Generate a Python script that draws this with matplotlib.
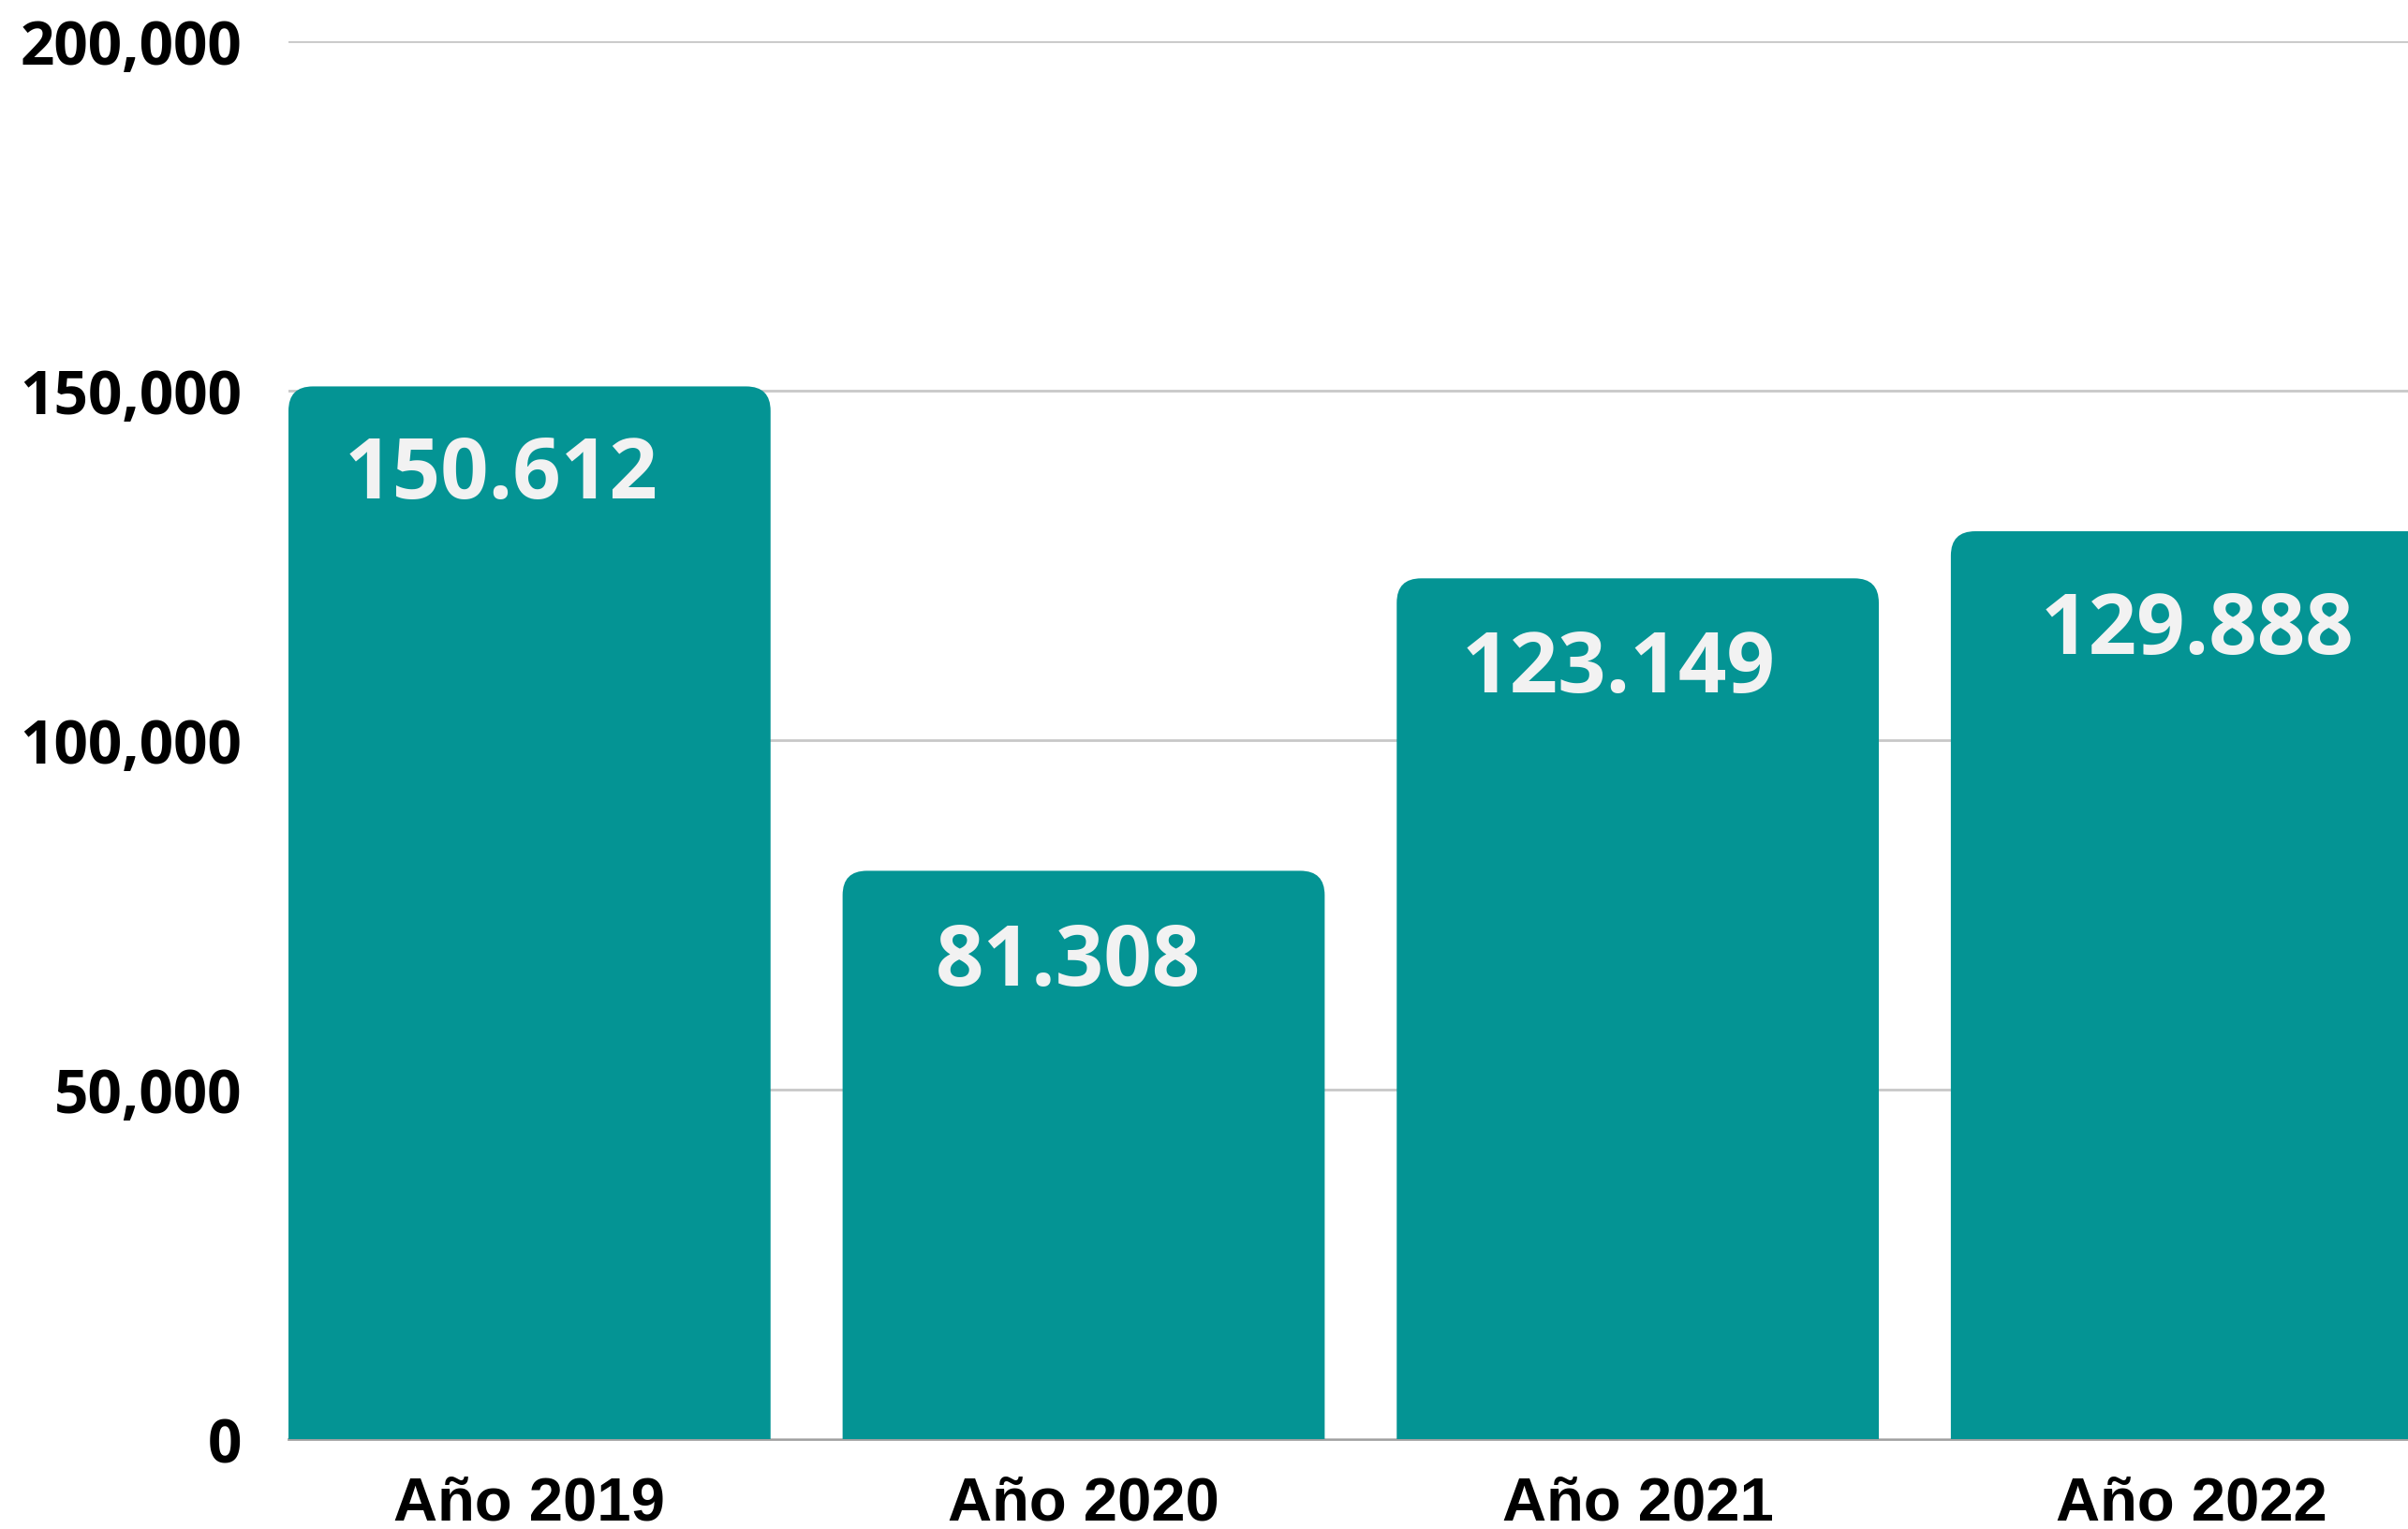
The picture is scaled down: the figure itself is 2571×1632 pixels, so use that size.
import matplotlib
matplotlib.use("Agg")
import matplotlib.pyplot as plt
from matplotlib.patches import FancyBboxPatch
from matplotlib.ticker import FuncFormatter

categories = ["Año 2019", "Año 2020", "Año 2021", "Año 2022"]
values = [150612, 81308, 123149, 129888]
value_labels = ["150.612", "81.308", "123.149", "129.888"]
yticks = [0, 50000, 100000, 150000, 200000]

# label placement tweaks (points), layout only
label_dx = [-22, -12, -15, 4]
label_dy = [-69, -71, -70, -77]

BAR_COLOR = "#049494"
W, H, DPI = 2571, 1633, 100

fig = plt.figure(figsize=(W / DPI, H / DPI), dpi=DPI, facecolor="white")
ax = fig.add_axes([308 / W, 1 - 1537 / H, 1 - 308 / W, (1537 - 45) / H])

bar_width = 0.87
XL, XR = -0.435, 3.39
x = list(range(len(categories)))
ax.set_xlim(XL, XR)
ax.set_ylim(0, 200000)

# grid
ax.set_yticks(yticks)
ax.yaxis.grid(True, color="#c8c8c8", linewidth=2.0)
ax.set_axisbelow(True)
for s in ["top", "right", "left"]:
    ax.spines[s].set_visible(False)
ax.spines["bottom"].set_color("#a0a0a0")
ax.spines["bottom"].set_linewidth(2.0)
ax.spines["bottom"].set_zorder(0)

# bars with rounded tops
bars = ax.bar(x, values, width=bar_width, color=BAR_COLOR, zorder=2)
px_per_x = (W - 308) / (XR - XL)
px_per_y = (1537 - 45) / 200000
r_px = 26
rx = r_px / px_per_x
aspect = px_per_x / px_per_y
for b in bars:
    b.set_visible(False)
    x0, w, h = b.get_x(), b.get_width(), b.get_height()
    p = FancyBboxPatch((x0, -r_px / px_per_y * 2), w, h + r_px / px_per_y * 2,
                       boxstyle=f"round,pad=0,rounding_size={rx}",
                       mutation_aspect=aspect,
                       facecolor=BAR_COLOR, edgecolor="none", zorder=2,
                       clip_on=True)
    ax.add_patch(p)
    p.set_clip_path(ax.patch)

for xi, v, lab, dx, dy in zip(x, values, value_labels, label_dx, label_dy):
    ax.annotate(lab, (xi, v), xytext=(dx, dy), textcoords="offset points",
                ha="center", va="center", color="#f2f2f2",
                fontsize=65, fontweight="bold", family="Open Sans", zorder=3)

ax.yaxis.set_major_formatter(FuncFormatter(lambda v, p: f"{int(v):,}"))
ax.tick_params(axis="y", length=0, pad=36, labelsize=46)
for t in ax.get_yticklabels():
    t.set_fontfamily("Open Sans")
    t.set_fontweight("bold")

ax.set_xticks(x)
ax.set_xticklabels(categories)
ax.tick_params(axis="x", length=0, pad=28, labelsize=47)
for t in ax.get_xticklabels():
    t.set_fontfamily(["Liberation Sans", "DejaVu Sans"])
    t.set_fontweight("bold")

fig.savefig("out.png", dpi=DPI, facecolor="white")
